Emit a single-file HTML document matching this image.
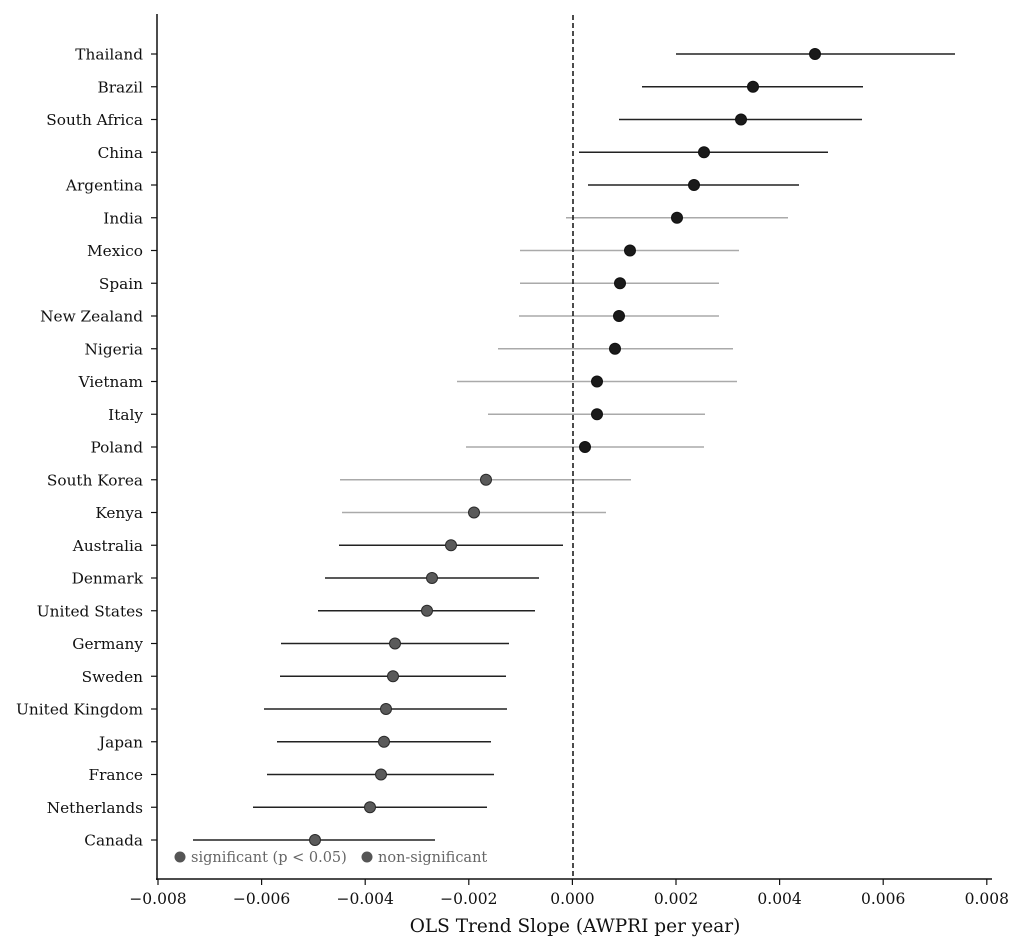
<!DOCTYPE html>
<html><head><meta charset="utf-8"><style>body{margin:0;background:#fff}svg{display:block}text{font-family:"DejaVu Serif","Liberation Serif",serif;fill:#111}</style></head><body>
<svg width="1024" height="951" xmlns="http://www.w3.org/2000/svg">
<g font-size="15.3" text-anchor="end">
<text x="143" y="59.5">Thailand</text>
<text x="143" y="92.25">Brazil</text>
<text x="143" y="125">South Africa</text>
<text x="143" y="157.75">China</text>
<text x="143" y="190.5">Argentina</text>
<text x="143" y="223.25">India</text>
<text x="143" y="256">Mexico</text>
<text x="143" y="288.75">Spain</text>
<text x="143" y="321.5">New Zealand</text>
<text x="143" y="354.25">Nigeria</text>
<text x="143" y="387">Vietnam</text>
<text x="143" y="419.75">Italy</text>
<text x="143" y="452.5">Poland</text>
<text x="143" y="485.25">South Korea</text>
<text x="143" y="518">Kenya</text>
<text x="143" y="550.75">Australia</text>
<text x="143" y="583.5">Denmark</text>
<text x="143" y="616.25">United States</text>
<text x="143" y="649">Germany</text>
<text x="143" y="681.75">Sweden</text>
<text x="143" y="714.5">United Kingdom</text>
<text x="143" y="747.25">Japan</text>
<text x="143" y="780">France</text>
<text x="143" y="812.75">Netherlands</text>
<text x="143" y="845.5">Canada</text>
</g>
<g stroke="#111" stroke-width="1.2">
<line x1="151" x2="157" y1="54" y2="54"/><line x1="151" x2="157" y1="86.75" y2="86.75"/><line x1="151" x2="157" y1="119.5" y2="119.5"/><line x1="151" x2="157" y1="152.25" y2="152.25"/><line x1="151" x2="157" y1="185" y2="185"/><line x1="151" x2="157" y1="217.75" y2="217.75"/><line x1="151" x2="157" y1="250.5" y2="250.5"/><line x1="151" x2="157" y1="283.25" y2="283.25"/><line x1="151" x2="157" y1="316" y2="316"/><line x1="151" x2="157" y1="348.75" y2="348.75"/><line x1="151" x2="157" y1="381.5" y2="381.5"/><line x1="151" x2="157" y1="414.25" y2="414.25"/><line x1="151" x2="157" y1="447" y2="447"/><line x1="151" x2="157" y1="479.75" y2="479.75"/><line x1="151" x2="157" y1="512.5" y2="512.5"/><line x1="151" x2="157" y1="545.25" y2="545.25"/><line x1="151" x2="157" y1="578" y2="578"/><line x1="151" x2="157" y1="610.75" y2="610.75"/><line x1="151" x2="157" y1="643.5" y2="643.5"/><line x1="151" x2="157" y1="676.25" y2="676.25"/><line x1="151" x2="157" y1="709" y2="709"/><line x1="151" x2="157" y1="741.75" y2="741.75"/><line x1="151" x2="157" y1="774.5" y2="774.5"/><line x1="151" x2="157" y1="807.25" y2="807.25"/><line x1="151" x2="157" y1="840" y2="840"/>
</g>
<g stroke="#222" stroke-width="1.5">
<line x1="676" x2="955" y1="54" y2="54"/>
<line x1="642" x2="863" y1="86.75" y2="86.75"/>
<line x1="619" x2="862" y1="119.5" y2="119.5"/>
<line x1="579" x2="828" y1="152.25" y2="152.25"/>
<line x1="588" x2="799" y1="185" y2="185"/>
<line x1="339" x2="563" y1="545.25" y2="545.25"/>
<line x1="325" x2="539" y1="578" y2="578"/>
<line x1="318" x2="535" y1="610.75" y2="610.75"/>
<line x1="281" x2="509" y1="643.5" y2="643.5"/>
<line x1="280" x2="506" y1="676.25" y2="676.25"/>
<line x1="264" x2="507" y1="709" y2="709"/>
<line x1="277" x2="491" y1="741.75" y2="741.75"/>
<line x1="267" x2="494" y1="774.5" y2="774.5"/>
<line x1="253" x2="487" y1="807.25" y2="807.25"/>
<line x1="193" x2="435" y1="840" y2="840"/>
</g>
<g stroke="#aaa" stroke-width="1.5">
<line x1="566" x2="788" y1="217.75" y2="217.75"/>
<line x1="520" x2="739" y1="250.5" y2="250.5"/>
<line x1="520" x2="719" y1="283.25" y2="283.25"/>
<line x1="519" x2="719" y1="316" y2="316"/>
<line x1="498" x2="733" y1="348.75" y2="348.75"/>
<line x1="457" x2="737" y1="381.5" y2="381.5"/>
<line x1="488" x2="705" y1="414.25" y2="414.25"/>
<line x1="466" x2="704" y1="447" y2="447"/>
<line x1="340" x2="631" y1="479.75" y2="479.75"/>
<line x1="342" x2="606" y1="512.5" y2="512.5"/>
</g>
<g fill="#1a1a1a" stroke="#111" stroke-width="1">
<circle cx="815" cy="54" r="5.5"/><circle cx="753" cy="86.75" r="5.5"/><circle cx="741" cy="119.5" r="5.5"/><circle cx="704" cy="152.25" r="5.5"/><circle cx="694" cy="185" r="5.5"/><circle cx="677" cy="217.75" r="5.5"/><circle cx="630" cy="250.5" r="5.5"/><circle cx="620" cy="283.25" r="5.5"/><circle cx="619" cy="316" r="5.5"/><circle cx="615" cy="348.75" r="5.5"/><circle cx="597" cy="381.5" r="5.5"/><circle cx="597" cy="414.25" r="5.5"/><circle cx="585" cy="447" r="5.5"/>
</g>
<g fill="#5a5a5a" stroke="#2a2a2a" stroke-width="1">
<circle cx="486" cy="479.75" r="5.5"/><circle cx="474" cy="512.5" r="5.5"/><circle cx="451" cy="545.25" r="5.5"/><circle cx="432" cy="578" r="5.5"/><circle cx="427" cy="610.75" r="5.5"/><circle cx="395" cy="643.5" r="5.5"/><circle cx="393" cy="676.25" r="5.5"/><circle cx="386" cy="709" r="5.5"/><circle cx="384" cy="741.75" r="5.5"/><circle cx="381" cy="774.5" r="5.5"/><circle cx="370" cy="807.25" r="5.5"/><circle cx="315" cy="840" r="5.5"/>
</g>
<line x1="573" y1="15" x2="573" y2="879" stroke="#111" stroke-width="1.5" stroke-dasharray="5,3"/>
<line x1="157" y1="14" x2="157" y2="880" stroke="#111" stroke-width="1.5"/>
<line x1="156" y1="879" x2="992" y2="879" stroke="#111" stroke-width="1.5"/>
<g stroke="#111" stroke-width="1.2">
<line x1="158" x2="158" y1="879" y2="885"/><line x1="261.6" x2="261.6" y1="879" y2="885"/><line x1="365.2" x2="365.2" y1="879" y2="885"/><line x1="468.8" x2="468.8" y1="879" y2="885"/><line x1="572.4" x2="572.4" y1="879" y2="885"/><line x1="676" x2="676" y1="879" y2="885"/><line x1="779.6" x2="779.6" y1="879" y2="885"/><line x1="883.2" x2="883.2" y1="879" y2="885"/><line x1="986.8" x2="986.8" y1="879" y2="885"/>
</g>
<g font-size="15.5" text-anchor="middle">
<text x="158" y="904">−0.008</text><text x="261.6" y="904">−0.006</text><text x="365.2" y="904">−0.004</text><text x="468.8" y="904">−0.002</text><text x="572.4" y="904">0.000</text><text x="676" y="904">0.002</text><text x="779.6" y="904">0.004</text><text x="883.2" y="904">0.006</text><text x="986.8" y="904">0.008</text>
</g>
<text x="575" y="932" font-size="18.5" text-anchor="middle">OLS Trend Slope (AWPRI per year)</text>
<circle cx="180" cy="857" r="5.5" fill="#555"/>
<text x="191" y="862" font-size="14.5" style="fill:#666">significant (p &lt; 0.05)</text>
<circle cx="367" cy="857" r="5.5" fill="#555"/>
<text x="378" y="862" font-size="14.5" style="fill:#666">non-significant</text>
</svg>
</body></html>
